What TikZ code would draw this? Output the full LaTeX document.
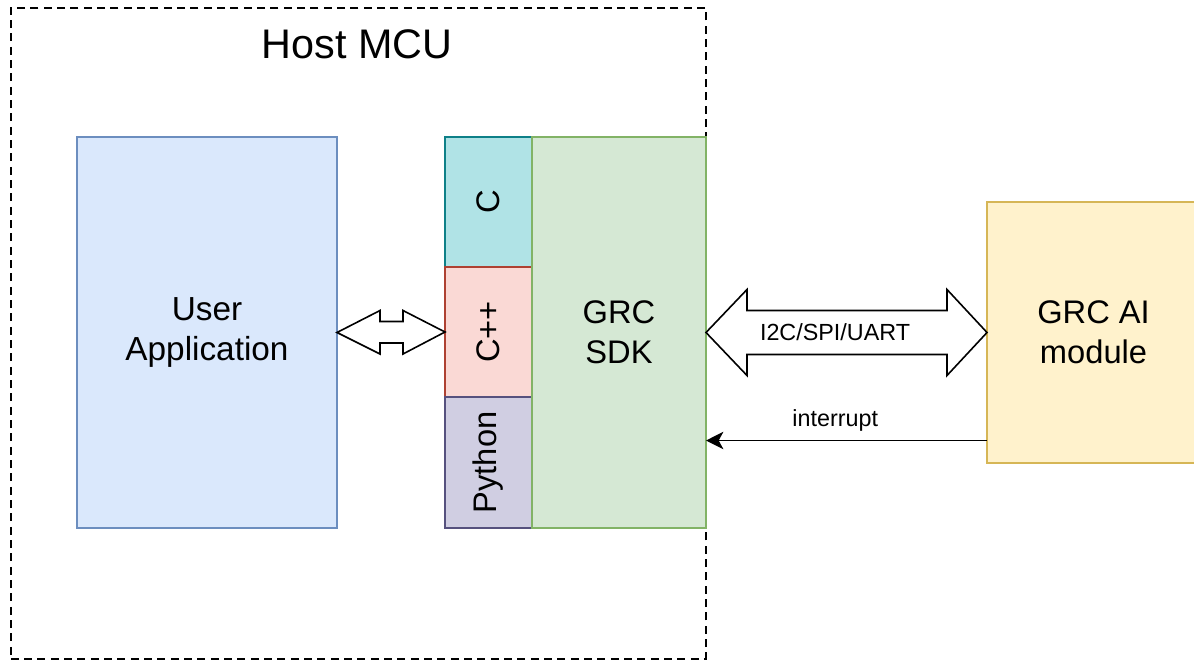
\documentclass[tikz,border=0pt]{standalone}
\usepackage{fontspec}
\setmainfont{Liberation Sans}
\usepackage{tikz}
\usetikzlibrary{positioning,arrows.meta}
\definecolor{uafill}{HTML}{DAE8FC}
\definecolor{uadraw}{HTML}{6C8EBF}
\definecolor{cfill}{HTML}{B0E3E6}
\definecolor{cdraw}{HTML}{0E8088}
\definecolor{cppfill}{HTML}{FAD9D5}
\definecolor{cppdraw}{HTML}{AE4132}
\definecolor{pyfill}{HTML}{D0CEE2}
\definecolor{pydraw}{HTML}{56517E}
\definecolor{sdkfill}{HTML}{D5E8D4}
\definecolor{sdkdraw}{HTML}{82B366}
\definecolor{aifill}{HTML}{FFF2CC}
\definecolor{aidraw}{HTML}{D6B656}

\begin{document}
\begin{tikzpicture}[x=0.75pt,y=-0.75pt,
        box/.style={draw, line width=1pt, anchor=north west, outer sep=0pt, inner sep=0pt, align=center,
            font=\fontsize{24.5}{30}\selectfont},
        small/.style={font=\fontsize{17.5}{21}\selectfont},
        fat/.style={draw, line width=1.2pt, fill=white, line join=miter}]
    \useasboundingbox (0,0) rectangle (1194,660);
    \node (host) [draw, dashed, line width=1.2pt, dash pattern=on 6pt off 4pt, anchor=north west,
        minimum width=521.25pt, minimum height=488.25pt] at (10,7) {};
    \node (title) at (357,44) {\fontsize{31}{36}\selectfont Host MCU};
    \node (ua) [box, fill=uafill, draw=uadraw, minimum width=195pt, minimum height=293.25pt,
        font=\fontsize{25}{30}\selectfont] at (77,137) {User\\Application};
    \node (c) [box, fill=cfill, draw=cdraw, minimum width=65.25pt, minimum height=97.5pt] at (445,137) {\rotatebox{90}{C}};
    \node (cpp) [box, fill=cppfill, draw=cppdraw, minimum width=65.25pt, minimum height=97.5pt, below=0pt of c] {\rotatebox{90}{C++}};
    \node (py) [box, fill=pyfill, draw=pydraw, minimum width=65.25pt, minimum height=98.25pt, below=0pt of cpp] {\rotatebox{90}{Python}};
    \node (sdk) [box, fill=sdkfill, draw=sdkdraw, minimum width=130.5pt, minimum height=293.25pt] at (c.north east) {GRC\\SDK};
    \node (ai) [box, fill=aifill, draw=aidraw, minimum width=185pt, minimum height=195.75pt,
        label={[align=center, font=\fontsize{24.5}{30}\selectfont, xshift=-12.6pt]center:GRC AI\\module}] at (987,202) {};
    \draw[fat] (ua.east) -- ++(43,-22) -- ++(0,11) -- ++(23,0) -- ++(0,-11) -- (cpp.west)
        -- ++(-42,22) -- ++(0,-11) -- ++(-23,0) -- ++(0,11) -- cycle;
    \draw[fat] (sdk.east) -- ++(41,-43) -- ++(0,21) -- ++(200,0) -- ++(0,-21) -- (ai.west)
        -- ++(-40,43) -- ++(0,-21) -- ++(-200,0) -- ++(0,21) -- cycle;
    \node (bus) [small] at (835,332) {I2C/SPI/UART};
    \draw[line width=1.4pt, -{Stealth[length=13pt,width=13pt,inset=3.5pt]}] ([yshift=-81pt]ai.west) --
        node[small, pos=0.54, above=3pt] (irq) {interrupt} ([yshift=-81pt]ai.west -| sdk.east);
\end{tikzpicture}
\end{document}
